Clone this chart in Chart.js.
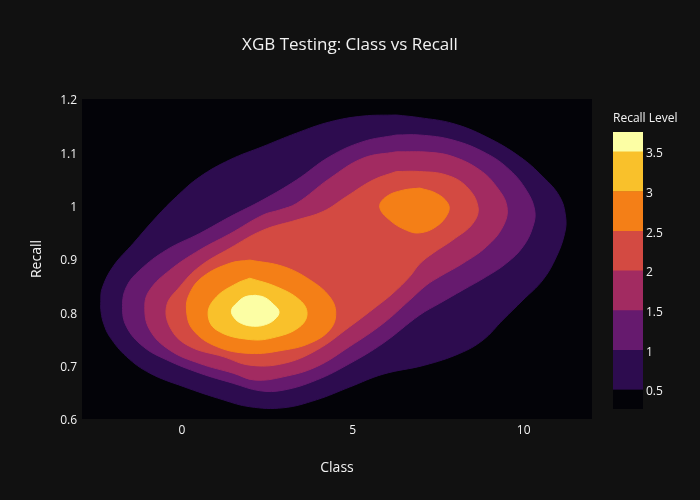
<!DOCTYPE html>
<html><head><meta charset="utf-8">
<script src="https://cdn.jsdelivr.net/npm/chart.js@4.4.1/dist/chart.umd.min.js"></script>
<style>
html,body{margin:0;padding:0;background:#111111;}
#wrap{position:relative;width:700px;height:500px;background:#111111;}
#main{position:absolute;left:0;top:0;}
#cbar{position:absolute;left:600px;top:100px;}
</style></head><body>
<div id="wrap"><canvas id="main" width="700" height="500"></canvas><canvas id="cbar" width="100" height="320"></canvas></div>
<script>
// ---- axis ticks ----
const xTicks = [0, 5, 10];
const yTicks = [0.6, 0.7, 0.8, 0.9, 1, 1.1, 1.2];
const yTickLabels = ['0.6', '0.7', '0.8', '0.9', '1', '1.1', '1.2'];
const xRange = [-2.92, 12];
const yRange = [0.6, 1.2];

// ---- contour levels (colorbar) ----
const levelValues = [0.5, 1, 1.5, 2, 2.5, 3, 3.5];
const levelTickLabels = ['0.5', '1', '1.5', '2', '2.5', '3', '3.5'];
const colorbarRange = [0.26, 3.75];
const bandColors = ['#030308', '#2d0c4f', '#661a6e', '#a22b61', '#d34a42', '#f47f17', '#f9c12b', '#fcfea4'];

// ---- contour outlines (Class, Recall) ----
const c05x = [-2.280,-2.360,-2.370,-2.330,-2.009,-1.424,-0.740,-0.155,0.526,1.404,2.377,3.354,4.327,5.301,6.278,6.959,7.933,8.909,9.883,10.565,11.053,11.228,11.199,10.956,10.565,9.980,9.395,8.810,8.129,7.105,5.886,4.912,3.939,2.962,1.988,1.208,0.038,-0.936,-1.617,-2.105];
const c05y = [0.778,0.800,0.820,0.845,0.886,0.929,0.979,1.017,1.054,1.086,1.111,1.136,1.157,1.168,1.170,1.165,1.154,1.129,1.092,1.054,1.017,0.979,0.948,0.904,0.861,0.823,0.786,0.748,0.723,0.701,0.684,0.660,0.636,0.621,0.623,0.636,0.661,0.686,0.717,0.754];

const c10x = [-1.734,-1.617,-1.228,-0.447,0.526,1.404,2.377,3.354,4.327,5.301,6.278,6.959,7.933,8.909,9.591,10.079,10.322,10.272,9.980,9.494,8.909,8.225,7.544,6.959,5.886,4.912,3.939,2.962,2.281,1.5,0.526,-0.447,-1.132,-1.617];
const c10y = [0.811,0.848,0.879,0.917,0.948,0.979,1.011,1.048,1.092,1.12,1.1325,1.1325,1.123,1.098,1.067,1.029,0.992,0.961,0.923,0.892,0.867,0.842,0.817,0.795,0.742,0.704,0.673,0.654,0.653,0.667,0.686,0.711,0.736,0.773];

const c15x = [-1.082,-0.936,-0.351,0.526,1.404,2.377,2.866,3.354,4.327,5.301,6.278,7.252,7.933,8.714,9.202,9.512,9.395,8.909,8.225,7.544,7.155,6.667,5.886,4.912,3.939,2.962,2.135,1.5,0.526,-0.351,-0.936];
const c15y = [0.811,0.842,0.879,0.917,0.947,0.9825,0.992,1.004,1.051,1.089,1.101,1.1,1.092,1.067,1.036,0.998,0.961,0.923,0.892,0.867,0.851,0.823,0.779,0.736,0.698,0.679,0.673,0.686,0.704,0.729,0.767];

const c20x = [-0.447,-0.058,0.526,1.404,2.377,3.354,4.132,4.816,5.594,6.278,6.959,7.740,8.325,8.664,8.518,7.933,7.348,6.959,6.667,6.178,5.693,4.912,3.939,2.962,1.988,1.208,0.234,-0.301];
const c20y = [0.811,0.848,0.886,0.92,0.954,0.973,0.989,1.017,1.048,1.064,1.064,1.0575,1.036,0.998,0.967,0.936,0.911,0.891,0.867,0.836,0.811,0.773,0.729,0.704,0.701,0.717,0.736,0.767];

const c25ax = [0.137,0.234,0.623,1.404,1.988,2.962,3.743,4.327,4.503,4.327,3.743,2.962,1.988,1.015,0.330];
const c25ay = [0.804,0.836,0.867,0.892,0.898,0.886,0.861,0.829,0.798,0.767,0.742,0.729,0.723,0.736,0.767];

const c25bx = [5.790,5.986,6.471,6.959,7.447,7.787,7.787,7.447,6.959,6.570,6.082];
const c25by = [0.9975,1.017,1.029,1.033,1.023,1.004,0.986,0.961,0.949,0.954,0.973];

const c30x = [0.769,1.015,1.599,1.988,2.769,3.450,3.664,3.450,2.769,1.988,1.015];
const c30y = [0.798,0.829,0.854,0.864,0.848,0.823,0.798,0.773,0.754,0.749,0.767];

const c35x = [1.453,1.620,1.850,2.150,2.420,2.680,2.845,2.720,2.450,2.100,1.750,1.530];
const c35y = [0.804,0.818,0.829,0.832,0.828,0.815,0.801,0.787,0.777,0.774,0.779,0.790];

const contours = [
  {level: 0.5, xs: c05x, ys: c05y},
  {level: 1.0, xs: c10x, ys: c10y},
  {level: 1.5, xs: c15x, ys: c15y},
  {level: 2.0, xs: c20x, ys: c20y},
  {level: 2.5, xs: c25ax, ys: c25ay},
  {level: 2.5, xs: c25bx, ys: c25by},
  {level: 3.0, xs: c30x, ys: c30y},
  {level: 3.5, xs: c35x, ys: c35y}
];

const FONT = '"Open Sans", "Noto Sans", sans-serif';
const TXT = '#f2f2f2';

const datasets = contours.map((c, i) => {
  let pts = c.xs.map((x, k) => ({x: x, y: c.ys[k]}));
  // start the closed outline at its highest vertex so the seam sits on a flat stretch
  let top = 0;
  pts.forEach((p, k) => { if (p.y > pts[top].y) top = k; });
  pts = pts.slice(top).concat(pts.slice(0, top));
  pts.push({x: pts[0].x, y: pts[0].y});
  const col = bandColors[levelValues.indexOf(c.level) + 1];
  return {
    data: pts, showLine: true, fill: 'shape',
    backgroundColor: col, borderColor: col, borderWidth: 1,
    pointRadius: 0, pointHoverRadius: 0, tension: 0.4,
    order: contours.length - i
  };
});

const plotBg = {
  id: 'plotBg',
  beforeDatasetsDraw(chart) {
    const a = chart.chartArea, ctx = chart.ctx;
    ctx.save();
    ctx.fillStyle = bandColors[0];
    ctx.fillRect(a.left, a.top, a.right - a.left, a.bottom - a.top);
    ctx.restore();
  }
};

new Chart(document.getElementById('main'), {
  type: 'scatter',
  data: {datasets: datasets},
  plugins: [plotBg],
  options: {
    responsive: false, animation: false, devicePixelRatio: 1,
    layout: {padding: 0},
    plugins: {
      legend: {display: false}, tooltip: {enabled: false},
      title: {display: true, text: 'XGB Testing: Class vs Recall', color: TXT,
        font: {family: FONT, size: 17, weight: 'normal'}, padding: {top: 34.8, bottom: 43.8}}
    },
    scales: {
      x: {
        type: 'linear', min: xRange[0], max: xRange[1],
        afterBuildTicks: s => { s.ticks = xTicks.map(v => ({value: v})); },
        afterFit: s => { s.height = 81; },
        grid: {display: false, drawTicks: false}, border: {display: false},
        ticks: {color: TXT, font: {family: FONT, size: 12}, padding: 4, callback: v => String(v)},
        title: {display: true, text: 'Class', color: TXT, font: {family: FONT, size: 14}, padding: {top: 0, bottom: 24}}
      },
      y: {
        type: 'linear', min: yRange[0], max: yRange[1],
        afterBuildTicks: s => { s.ticks = yTicks.map(v => ({value: v})); },
        afterFit: s => { s.width = 82; },
        grid: {display: false, drawTicks: false}, border: {display: false},
        ticks: {color: TXT, font: {family: FONT, size: 12}, padding: 5, labelOffset: 2, callback: (v, i) => yTickLabels[i]},
        title: {display: true, text: 'Recall', color: TXT, font: {family: FONT, size: 14}, padding: {top: 29, bottom: 0}}
      },
      // empty right-hand strip reserved for the colorbar
      yR: {
        type: 'linear', position: 'right', min: yRange[0], max: yRange[1],
        afterFit: s => { s.width = 108; },
        grid: {display: false, drawTicks: false}, border: {display: false},
        ticks: {display: false}
      }
    }
  }
});

// ---- colorbar ----
const cbEdges = [colorbarRange[0]].concat(levelValues, [colorbarRange[1]]);
const cbDatasets = bandColors.map((col, i) => ({
  data: [[cbEdges[i], cbEdges[i + 1]]], backgroundColor: col, borderWidth: 0,
  grouped: false, barPercentage: 1, categoryPercentage: 1
}));

new Chart(document.getElementById('cbar'), {
  type: 'bar',
  data: {labels: [''], datasets: cbDatasets},
  options: {
    responsive: false, animation: false, devicePixelRatio: 1,
    layout: {padding: {left: 13, right: 0, top: 0, bottom: 11}},
    plugins: {
      legend: {display: false}, tooltip: {enabled: false},
      title: {display: true, text: 'Recall Level', align: 'start', color: TXT,
        font: {family: FONT, size: 12, weight: 'normal'}, padding: {top: 11.5, bottom: 6.1}}
    },
    scales: {
      x: {display: false},
      y: {
        position: 'right', min: colorbarRange[0], max: colorbarRange[1],
        afterBuildTicks: s => { s.ticks = levelValues.map(v => ({value: v})); },
        afterFit: s => { s.width = 57; },
        grid: {display: false, drawTicks: false}, border: {display: false},
        ticks: {color: TXT, font: {family: FONT, size: 12}, padding: 3, labelOffset: 2, callback: (v, i) => levelTickLabels[i]}
      }
    }
  }
});
</script>
</body></html>
